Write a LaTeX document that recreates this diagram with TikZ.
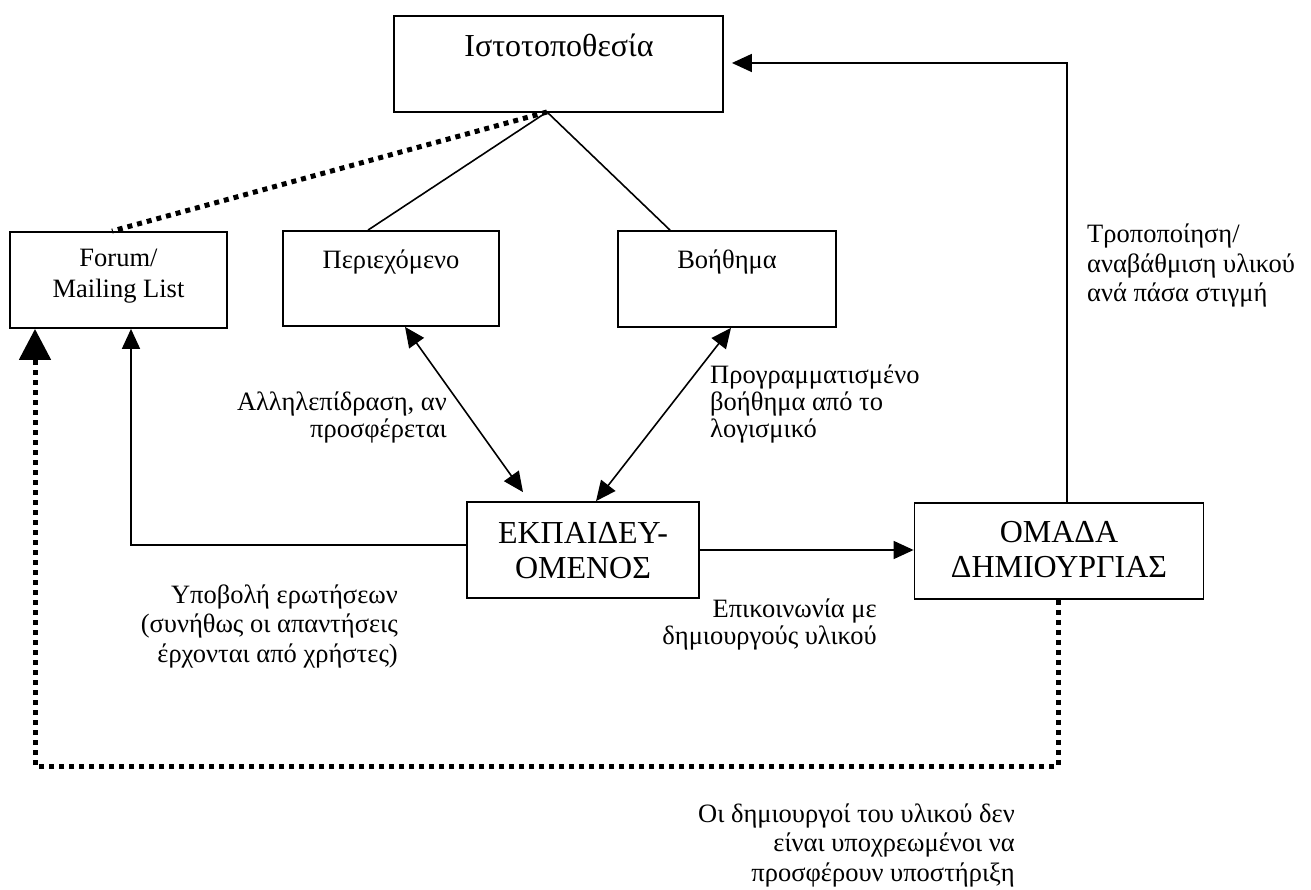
\documentclass[tikz,border=0pt]{standalone}
\usepackage{fontspec}
\setmainfont{Liberation Serif}
\usetikzlibrary{arrows.meta,calc}
\begin{document}
\begin{tikzpicture}[x=1pt,y=-1pt,
  box/.style={draw,line width=1.8pt,inner sep=0pt},
  boxtext/.style={inner sep=0pt,anchor=base,align=center},
  bigtext/.style={boxtext,font=\fontsize{32}{35}\selectfont},
  smalltext/.style={boxtext,font=\fontsize{26.5}{31}\selectfont},
  lbl/.style={inner sep=0pt,font=\fontsize{26.5}{27}\selectfont},
  lblwide/.style={inner sep=0pt,font=\fontsize{26.5}{29.5}\selectfont},
  conn/.style={line width=1.6pt},
  arr/.style={conn,-{Triangle[length=20pt,width=18pt]}},
  darr/.style={conn,{Triangle[length=20pt,width=18pt]}-{Triangle[length=20pt,width=18pt]}},
  dots/.style={line width=5pt,dash pattern=on 5pt off 5pt}]
\useasboundingbox (0,0) rectangle (1311,890);

% boxes
\node[box,minimum width=329pt,minimum height=96pt] (site) at (558.5,64) {};
\node[box,minimum width=217pt,minimum height=96pt] (forum) at (118.5,280) {};
\node[box,minimum width=216pt,minimum height=95pt] (content) at (391,278.5) {};
\node[box,minimum width=218pt,minimum height=96pt] (help) at (727,279) {};
\node[box,minimum width=232pt,minimum height=96pt] (learner) at (583,550) {};
\node[box,minimum width=289pt,minimum height=96pt] (team) at (1059,551) {};

% box texts (multi-line nodes sit on the baseline of their last line)
\node[bigtext] (sitet) at (559,57) {Ιστοτοποθεσία};
\node[smalltext] (forumt) at (118.5,298) {Forum/\\Mailing List};
\node[smalltext] (contentt) at (391,269) {Περιεχόμενο};
\node[smalltext] (helpt) at (727,269) {Βοήθημα};
\node[bigtext] (learnert) at (583,578) {ΕΚΠΑΙΔΕΥ-\\ΟΜΕΝΟΣ};
\node[bigtext] (teamt) at (1059,577) {ΟΜΑΔΑ\\ΔΗΜΙΟΥΡΓΙΑΣ};

% tree below the site
\coordinate (apex) at (547,112);
\draw[conn] ($(content.north)+(-23,0)$) -- (apex) -- ($(help.north)+(-57,0)$);
\draw[dots] (apex) -- ($(forum.north)+(-6.5,0)$);

% learner links
\draw[darr] ($(content.south)+(14,0)$) -- ($(learner.north)+(-60,-9)$);
\draw[darr] ($(help.south)+(4,0)$) -- ($(learner.north)+(13,0)$);
\draw[arr] ($(learner.west)+(0,-5)$) -| ($(forum.south)+(12.5,0)$);
\draw[arr] (learner.east) -- (learner.east -| team.west);

% team links
\draw[arr] ($(team.north)+(8,0)$) |- ($(site.east)+(8,-1)$);
\coordinate (low) at (0,766);
\coordinate (ts) at ($(team.south)+(-1,0)$);
\coordinate (fs) at ($(forum.south)+(-83.5,0)$);
\draw[dots,-{Triangle[length=31pt,width=31pt]}] (ts) -- (ts |- low) -| (fs);

% labels
\node[lbl,anchor=base east,align=right] (l1) at (447,437) {Αλληλεπίδραση, αν\\προσφέρεται};
\node[lbl,anchor=base west,align=left] (l2) at (710,437) {Προγραμματισμένο\\βοήθημα από το\\λογισμικό};
\node[lblwide,anchor=base east,align=right] (l3) at (398,662) {Υποβολή ερωτήσεων\\(συνήθως οι απαντήσεις\\έρχονται από χρήστες)};
\node[lbl,anchor=base east,align=right] (l4) at (877,644) {Επικοινωνία με\\δημιουργούς υλικού};
\node[lblwide,anchor=base west,align=left] (l5) at (1087,302) {Τροποποίηση/\\αναβάθμιση υλικού\\ανά πάσα στιγμή};
\node[lblwide,anchor=base east,align=right] (l6) at (1015,881) {Οι δημιουργοί του υλικού δεν\\είναι υποχρεωμένοι να\\προσφέρουν υποστήριξη};
\end{tikzpicture}
\end{document}
